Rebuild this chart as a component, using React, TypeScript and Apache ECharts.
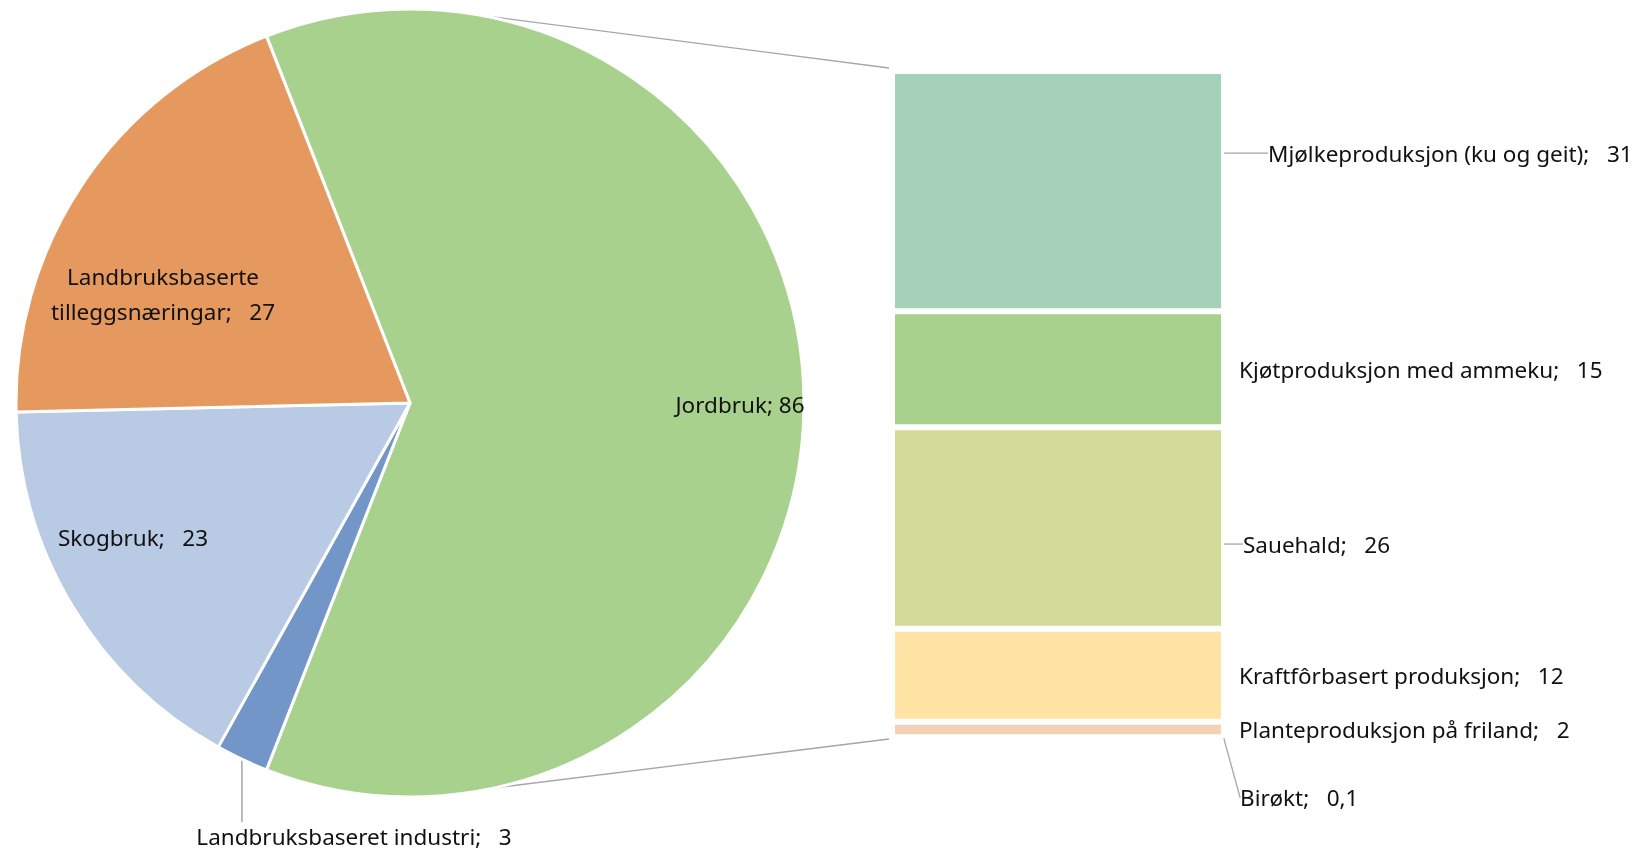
import React, { useEffect, useRef } from "react";
import * as echarts from "echarts";

// Pie data (ordered clockwise starting at Jordbruk)
const pieNames = ["Jordbruk", "Landbruksbaseret industri", "Skogbruk", "Landbruksbaserte\ntilleggsnæringar"];
const pieValues = [86, 3, 23, 27];
const pieSeparators = [";", ";  ", ";  ", ";  "];
const pieColors = ["#A9D18E", "#7296C7", "#B9CAE4", "#E6995E"];

// Bar of pie (breakdown of Jordbruk)
const barNames = [
  "Mjølkeproduksjon (ku og geit)",
  "Kjøtproduksjon med ammeku",
  "Sauehald",
  "Kraftfôrbasert produksjon",
  "Planteproduksjon på friland",
  "Birøkt",
];
const barValues = [31, 15, 26, 12, 2, 0.1];
const barColors = ["#A4D1B8", "#A9D18E", "#D2DB97", "#FFE4A6", "#F3D1B6", "#E9C6A0"];

const W = 1647;
const H = 853;
const FONT = "'Noto Sans', sans-serif";
const FS = 22.5;
const GREY = "#A6A6A6";

// layout (styles/positions)
const pieCenter = [410, 403];
const pieRadius = 394;
const barLeft = 892;
const barRight = 1224;
const barTop = 71;
const barBottom = 738;
const pieLabelPos: Record<number, [number, number]> = {
  0: [740, 404],
  1: [354, 836],
  2: [133, 537],
  3: [163, 294],
};
const barLabelShift: Record<number, [number, number]> = {
  0: [29, -38],
  2: [4, 16],
  5: [0, 60],
};

function fmt(v: number) {
  return String(v).replace(".", ",");
}

export default function App() {
  const ref = useRef<HTMLDivElement>(null);
  useEffect(() => {
    if (!ref.current) return;
    const chart = echarts.init(ref.current, null, { renderer: "svg" });
    const total = pieValues.reduce((a, b) => a + b, 0);
    const startAngle = (pieValues[0] / total) * 180;
    const barTotal = barValues.reduce((a, b) => a + b, 0);

    // anchor of the industri leader line: mid-angle of its slice on the arc
    const midFrac = (pieValues[0] + pieValues[1] / 2) / total;
    const midAngle = ((startAngle - midFrac * 360) * Math.PI) / 180;
    const ax = pieCenter[0] + pieRadius * Math.cos(midAngle);
    const ay = pieCenter[1] - pieRadius * Math.sin(midAngle);

    const barSeries = barNames.map((name, i) => ({
      type: "bar",
      name,
      stack: "jord",
      data: [barValues[i]],
      barWidth: "100%",
      itemStyle: { color: barColors[i], borderColor: "#fff", borderWidth: 3 },
      label: {
        show: true,
        position: "right",
        distance: 15,
        color: "#111",
        fontFamily: FONT,
        fontSize: FS,
        formatter: (p: any) => `${p.seriesName};   ${fmt(p.value)}`,
      },
      labelLine: { show: !!barLabelShift[i], lineStyle: { color: GREY, width: 1.3 } },
      labelLayout: barLabelShift[i] ? { dx: barLabelShift[i][0], dy: barLabelShift[i][1] } : undefined,
    }));

    chart.setOption({
      animation: false,
      grid: { left: barLeft, right: W - barRight, top: barTop, bottom: H - barBottom, containLabel: false },
      xAxis: { type: "category", data: ["Jordbruk"], show: false },
      yAxis: { type: "value", min: 0, max: barTotal, inverse: true, show: false },
      series: [
        {
          type: "pie",
          center: pieCenter,
          radius: pieRadius,
          startAngle,
          clockwise: true,
          data: pieNames.map((n, i) => ({
            name: n,
            value: pieValues[i],
            itemStyle: { color: pieColors[i] },
          })),
          itemStyle: { borderColor: "#fff", borderWidth: 3 },
          label: {
            show: true,
            position: "inside",
            color: "#111",
            fontFamily: FONT,
            fontSize: FS,
            lineHeight: 35,
            align: "center",
            overflow: "none",
            formatter: (p: any) => `${p.name}${pieSeparators[p.dataIndex]} ${fmt(p.value)}`,
          },
          labelLine: { show: false },
          labelLayout: (p: any) => {
            const pos = pieLabelPos[p.dataIndex];
            return { x: pos[0], y: pos[1], align: "center", verticalAlign: "middle" };
          },
        },
        ...barSeries,
      ],
      graphic: [
        { type: "line", shape: { x1: 478, y1: 15, x2: 889, y2: 68 }, style: { stroke: GREY, lineWidth: 1.3 } },
        { type: "line", shape: { x1: 478, y1: 790, x2: 889, y2: 739 }, style: { stroke: GREY, lineWidth: 1.3 } },
        {
          type: "line",
          shape: { x1: ax, y1: ay, x2: ax, y2: pieLabelPos[1][1] - 14 },
          style: { stroke: GREY, lineWidth: 1.5 },
        },
      ],
    });
    return () => chart.dispose();
  }, []);
  return <div ref={ref} style={{ position: "fixed", left: 0, top: 0, width: W, height: H }} />;
}
